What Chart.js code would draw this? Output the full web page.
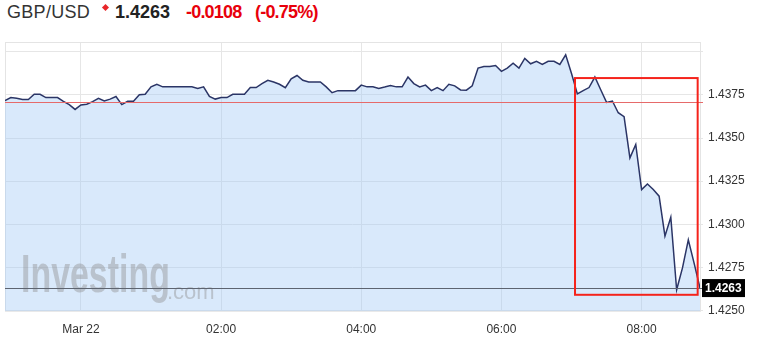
<!DOCTYPE html>
<html>
<head>
<meta charset="utf-8">
<title>GBP/USD</title>
<script src="https://cdn.jsdelivr.net/npm/chart.js@4.4.1/dist/chart.umd.min.js"></script>
<style>
body { margin:0; background:#fff; font-family:"Liberation Sans", Arial, sans-serif; }
#wrap { position:relative; width:768px; height:347px; overflow:hidden; }
.hd { position:absolute; top:1px; font-size:18px; line-height:22px; white-space:nowrap; }
.red { color:#e8000b; font-weight:bold; letter-spacing:-0.8px; }
.mark { position:absolute; left:103px; top:5px; width:5px; height:5px; background:#e8262a; transform:rotate(45deg); }
#chartBox { position:absolute; left:0; top:30px; width:768px; height:317px; }
</style>
</head>
<body>
<div id="wrap">
  <span class="hd" style="left:7px;color:#333;letter-spacing:0.3px;">GBP/USD</span>
  <span class="mark"></span>
  <span class="hd" style="left:115px;color:#222;font-weight:bold;">1.4263</span>
  <span class="hd red" style="left:186px;">-0.0108</span>
  <span class="hd red" style="left:255px;">(-0.75%)</span>
  <div id="chartBox"><canvas id="chart" width="768" height="317"></canvas></div>
</div>
<script>
// 5 minute quotes, first one at 22:55 (minutes counted from Mar 22 00:00)
var startMinute = -65;
var stepMinutes = 5;
var prices = [
  1.43717, 1.43735, 1.43731, 1.43724, 1.43724, 1.43754, 1.43754, 1.43735, 1.43735, 1.43735,
  1.43713, 1.43694, 1.43666, 1.43692, 1.43696, 1.43711, 1.43731, 1.43715, 1.43726, 1.43741,
  1.43694, 1.43713, 1.43713, 1.43751, 1.43754, 1.43797, 1.43812, 1.43797, 1.43797, 1.43797,
  1.43797, 1.43797, 1.43797, 1.43788, 1.43797, 1.43741, 1.43726, 1.43735, 1.43735, 1.43754,
  1.43754, 1.43754, 1.43793, 1.43793, 1.43816, 1.43835, 1.43825, 1.43812, 1.43792, 1.43844,
  1.43863, 1.43835, 1.43825, 1.43825, 1.43825, 1.43797, 1.43763, 1.43775, 1.43775, 1.43775,
  1.43775, 1.43807, 1.43797, 1.43797, 1.43788, 1.43796, 1.43805, 1.43797, 1.43797, 1.43854,
  1.43816, 1.43797, 1.43807, 1.43775, 1.43793, 1.43775, 1.43812, 1.43803, 1.43779, 1.43778,
  1.43803, 1.43906, 1.43915, 1.43915, 1.43921, 1.43887, 1.43906, 1.43934, 1.43906, 1.43962,
  1.43931, 1.43945, 1.43927, 1.43945, 1.43945, 1.43927, 1.43983, 1.43874, 1.43756, 1.43775,
  1.43793, 1.43854, 1.43780, 1.43707, 1.43715, 1.43647, 1.43624, 1.43385, 1.43463, 1.43201,
  1.43234, 1.43202, 1.43163, 1.42931, 1.43041, 1.42620, 1.42747, 1.42910, 1.42773, 1.42630
];
var xTickMinutes = [0, 120, 240, 360, 480];
var xTickLabels = ['Mar 22', '02:00', '04:00', '06:00', '08:00'];
var yTicks = [1.4250, 1.4275, 1.4300, 1.4325, 1.4350, 1.4375, 1.4400];
var prevClose = 1.4371;
var lastPrice = 1.4263;
// red box drawn over the sell-off
var highlight = { xMin: 423, xMax: 528, yMin: 1.42591, yMax: 1.43848 };

var points = [];
for (var i = 0; i < prices.length; i++) {
    points.push({ x: startMinute + stepMinutes * i, y: prices[i] });
}

var overlay = {
    id: 'overlay',
    beforeDatasetsDraw: function(chart) {
        var ctx = chart.ctx, a = chart.chartArea;
        ctx.save();
        ctx.strokeStyle = '#e4e4e4';
        ctx.lineWidth = 1;
        ctx.strokeRect(Math.round(a.left) + 0.5, Math.round(a.top) + 0.5, a.right - a.left, a.bottom - a.top);
        ctx.restore();
    },
    afterDatasetsDraw: function(chart) {
        var ctx = chart.ctx, a = chart.chartArea, xs = chart.scales.x, ys = chart.scales.y;
        ctx.save();
        // watermark
        ctx.fillStyle = 'rgba(140,140,140,0.42)';
        ctx.textBaseline = 'alphabetic';
        ctx.save();
        ctx.translate(a.left + 16, a.bottom - 19);
        ctx.scale(0.64, 1);
        ctx.font = 'bold 53px "Liberation Sans", Arial, sans-serif';
        ctx.fillText('Investing', 0, 0);
        ctx.restore();
        ctx.font = '22px "Liberation Sans", Arial, sans-serif';
        ctx.fillText('.com', a.left + 162, a.bottom - 12);

        // previous close
        var yp = Math.round(ys.getPixelForValue(prevClose)) + 0.5;
        ctx.strokeStyle = '#e66a6a';
        ctx.lineWidth = 1;
        ctx.beginPath();
        ctx.moveTo(a.left, yp);
        ctx.lineTo(a.right + 3, yp);
        ctx.stroke();

        // last price
        var yl = Math.round(ys.getPixelForValue(lastPrice)) + 0.5;
        ctx.strokeStyle = '#5d6470';
        ctx.beginPath();
        ctx.moveTo(a.left, yl);
        ctx.lineTo(a.right + 3, yl);
        ctx.stroke();

        // highlight box
        var x1 = xs.getPixelForValue(highlight.xMin), x2 = xs.getPixelForValue(highlight.xMax);
        var y1 = ys.getPixelForValue(highlight.yMax), y2 = ys.getPixelForValue(highlight.yMin);
        ctx.strokeStyle = '#f5231b';
        ctx.lineWidth = 2;
        ctx.strokeRect(x1, y1, x2 - x1, y2 - y1);
        ctx.restore();
    },
    afterDraw: function(chart) {
        var ctx = chart.ctx, a = chart.chartArea, ys = chart.scales.y;
        var yl = ys.getPixelForValue(lastPrice);
        ctx.save();
        ctx.fillStyle = '#000';
        ctx.fillRect(a.right + 2, yl - 9, 43, 18);
        ctx.fillStyle = '#fff';
        ctx.font = 'bold 12px "Liberation Sans", Arial, sans-serif';
        ctx.textBaseline = 'middle';
        ctx.textAlign = 'left';
        ctx.fillText(lastPrice.toFixed(4), a.right + 5, yl + 0.5);
        ctx.restore();
    }
};

var ctx = document.getElementById('chart').getContext('2d');
var chart = new Chart(ctx, {
    type: 'line',
    data: {
        datasets: [{
            data: points,
            borderColor: '#2b3566',
            borderWidth: 1.5,
            backgroundColor: 'rgba(160,200,245,0.4)',
            fill: 'start',
            pointRadius: 0,
            tension: 0
        }]
    },
    options: {
        responsive: false,
        animation: false,
        devicePixelRatio: 1,
        layout: { padding: { top: 4, left: 5, right: 0, bottom: 0 } },
        plugins: { legend: { display: false }, tooltip: { enabled: false } },
        scales: {
            x: {
                type: 'linear',
                min: -65,
                max: 530,
                afterBuildTicks: function(s) {
                    s.ticks = xTickMinutes.map(function(v) { return { value: v }; });
                },
                afterFit: function(s) { s.height = 36; },
                grid: { color: '#e6e6e6', drawTicks: false },
                border: { display: false },
                ticks: {
                    autoSkip: false,
                    maxRotation: 0,
                    padding: 11,
                    color: '#333',
                    font: { family: '"Liberation Sans", Arial, sans-serif', size: 12 },
                    callback: function(v) {
                        var i = xTickMinutes.indexOf(v);
                        return i >= 0 ? xTickLabels[i] : '';
                    }
                }
            },
            y: {
                position: 'right',
                min: 1.42497,
                max: 1.44056,
                afterBuildTicks: function(s) {
                    s.ticks = yTicks.map(function(v) { return { value: v }; });
                },
                afterFit: function(s) { s.width = 68; },
                grid: { color: '#e6e6e6', tickLength: 3 },
                border: { display: false },
                ticks: {
                    padding: 5,
                    color: '#333',
                    font: { family: '"Liberation Sans", Arial, sans-serif', size: 12 },
                    callback: function(v) {
                        return v > 1.439 ? '' : v.toFixed(4);
                    }
                }
            }
        }
    },
    plugins: [overlay]
});
</script>
</body>
</html>
